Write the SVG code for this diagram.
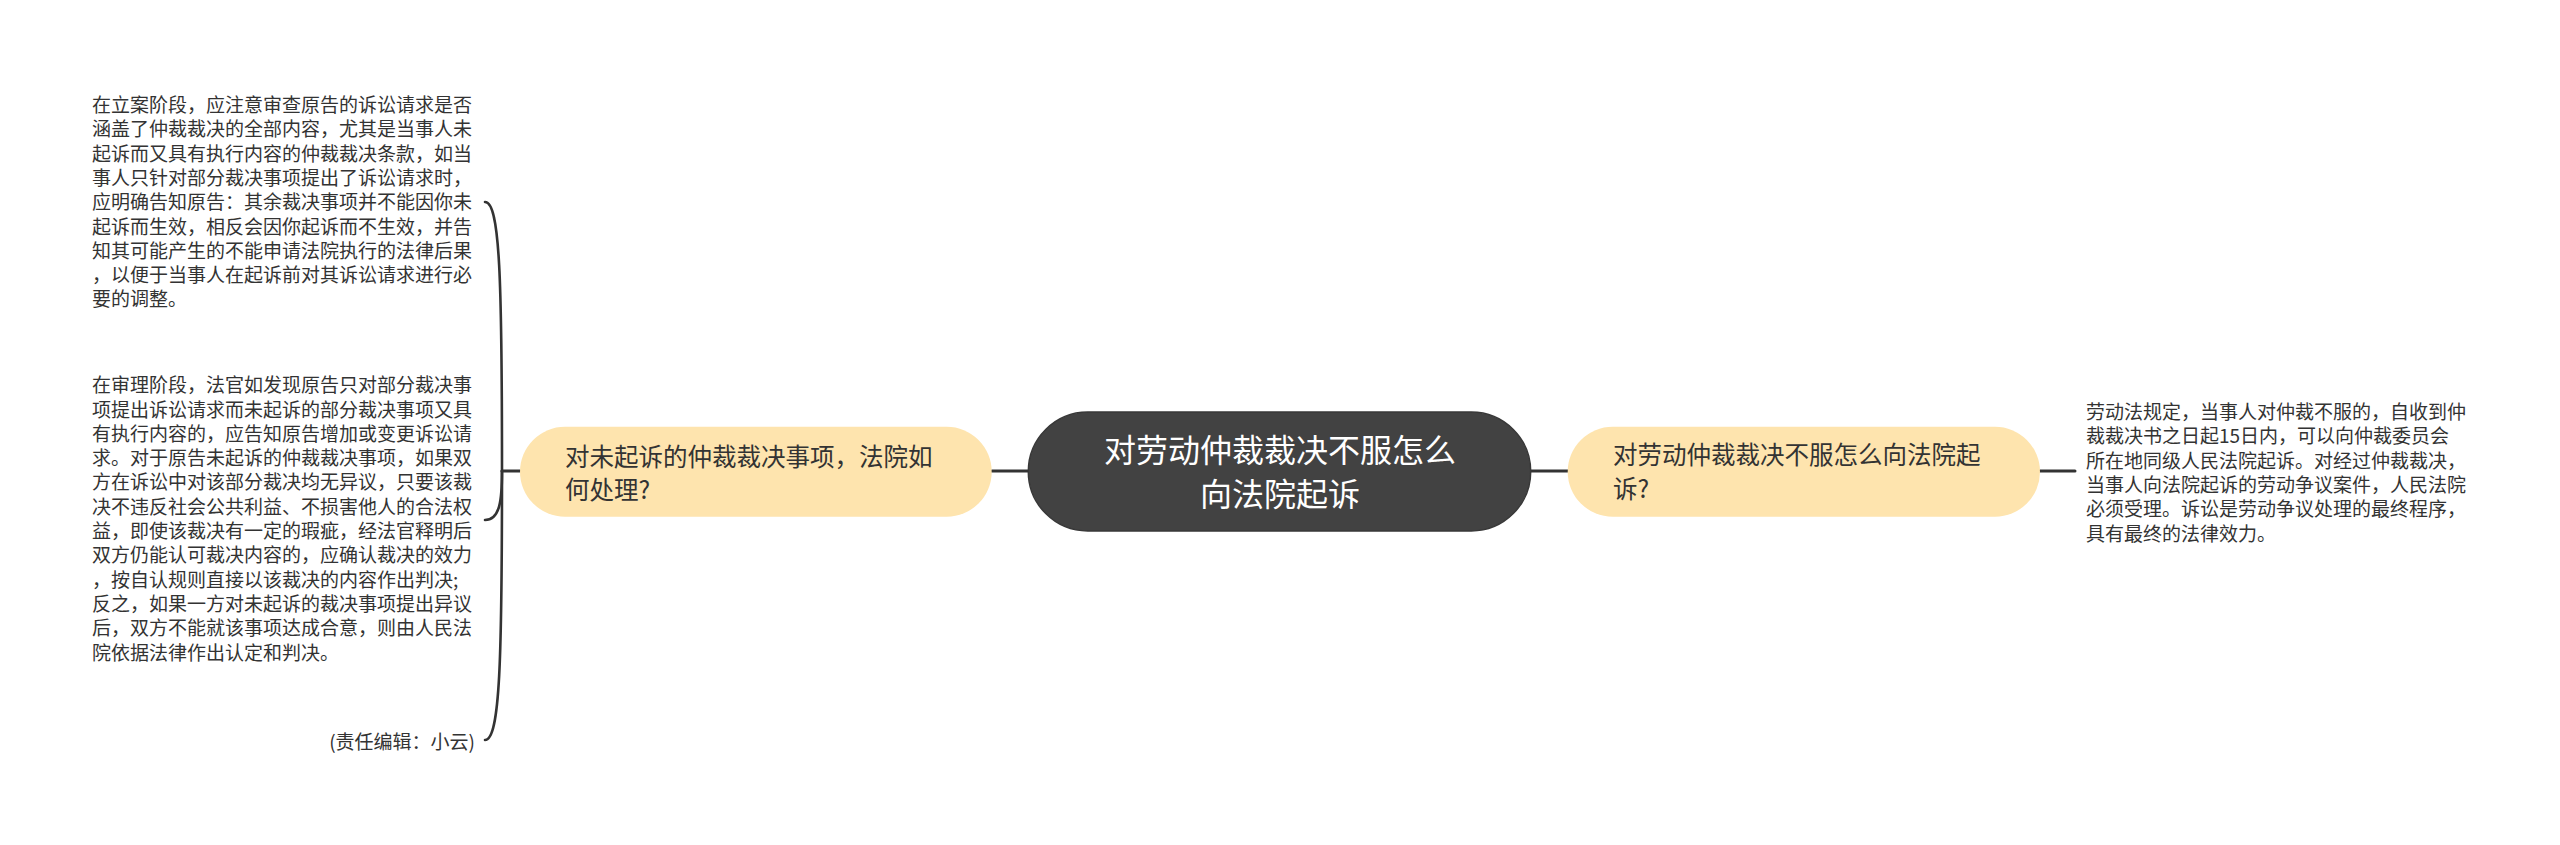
<svg xmlns="http://www.w3.org/2000/svg" width="2560" height="845" viewBox="0 0 2560 845">
<style>
.bg{fill:#ffffff}
.conn{fill:none;stroke:#333333;stroke-width:3;stroke-linecap:round}
.brace{fill:none;stroke:#333333;stroke-width:2.6;stroke-linecap:round}
.root{fill:#424242;stroke:#383838;stroke-width:1.5}
.sub{fill:#FEE4AE}
.t{font-family:"Noto Sans CJK SC","Noto Sans",sans-serif;fill:#333333}
.small{font-size:19px}
.mid{font-size:24.5px}
.big{font-size:32px;fill:#ffffff}
</style>
<rect class="bg" x="0" y="0" width="2560" height="845"/>
<g id="connectors">
<line class="conn" x1="991.7" y1="471" x2="1028.3" y2="471"/>
<line class="conn" x1="1530.7" y1="471" x2="1567.7" y2="471"/>
<line class="conn" x1="2040" y1="471" x2="2075" y2="471"/>
<line class="conn" x1="502" y1="471" x2="520" y2="471"/>
<path class="brace" d="M502,471 C502,280 500,202 485,202"/>
<path class="brace" d="M502,471 C502,500 500,520 485,520"/>
<path class="brace" d="M502,471 C502,660 500,740 485,740"/>
</g>
<g id="root">
<rect class="root" x="1028.3" y="412" width="502.4" height="119" rx="59.5" ry="59.5"/>
<text class="t big" text-anchor="middle"><tspan x="1280" y="462">对劳动仲裁裁决不服怎么</tspan><tspan x="1280" y="506">向法院起诉</tspan></text>
</g>
<g id="node-left">
<rect class="sub" x="520" y="426.7" width="471.7" height="90" rx="45" ry="45"/>
<text class="t mid"><tspan x="565" y="466">对未起诉的仲裁裁决事项，法院如</tspan><tspan x="565" y="499">何处理?</tspan></text>
</g>
<g id="node-right">
<rect class="sub" x="1567.7" y="426.7" width="472.3" height="90" rx="45" ry="45"/>
<text class="t mid"><tspan x="1613" y="464.3">对劳动仲裁裁决不服怎么向法院起</tspan><tspan x="1613" y="497.6">诉?</tspan></text>
</g>
<g id="leaf-filing">
<text class="t small"><tspan x="92" y="112">在立案阶段，应注意审查原告的诉讼请求是否</tspan><tspan x="92" y="136.3">涵盖了仲裁裁决的全部内容，尤其是当事人未</tspan><tspan x="92" y="160.6">起诉而又具有执行内容的仲裁裁决条款，如当</tspan><tspan x="92" y="184.9">事人只针对部分裁决事项提出了诉讼请求时，</tspan><tspan x="92" y="209.2">应明确告知原告：其余裁决事项并不能因你未</tspan><tspan x="92" y="233.5">起诉而生效，相反会因你起诉而不生效，并告</tspan><tspan x="92" y="257.8">知其可能产生的不能申请法院执行的法律后果</tspan><tspan x="92" y="282.1">，以便于当事人在起诉前对其诉讼请求进行必</tspan><tspan x="92" y="306.4">要的调整。</tspan></text>
</g>
<g id="leaf-trial">
<text class="t small"><tspan x="92" y="392.2">在审理阶段，法官如发现原告只对部分裁决事</tspan><tspan x="92" y="416.5">项提出诉讼请求而未起诉的部分裁决事项又具</tspan><tspan x="92" y="440.8">有执行内容的，应告知原告增加或变更诉讼请</tspan><tspan x="92" y="465.1">求。对于原告未起诉的仲裁裁决事项，如果双</tspan><tspan x="92" y="489.4">方在诉讼中对该部分裁决均无异议，只要该裁</tspan><tspan x="92" y="513.7">决不违反社会公共利益、不损害他人的合法权</tspan><tspan x="92" y="538">益，即使该裁决有一定的瑕疵，经法官释明后</tspan><tspan x="92" y="562.3">双方仍能认可裁决内容的，应确认裁决的效力</tspan><tspan x="92" y="586.6">，按自认规则直接以该裁决的内容作出判决;</tspan><tspan x="92" y="610.9">反之，如果一方对未起诉的裁决事项提出异议</tspan><tspan x="92" y="635.2">后，双方不能就该事项达成合意，则由人民法</tspan><tspan x="92" y="659.5">院依据法律作出认定和判决。</tspan></text>
</g>
<g id="leaf-editor">
<text class="t small" x="475" y="749" text-anchor="end">(责任编辑：小云)</text>
</g>
<g id="leaf-right">
<text class="t small"><tspan x="2086" y="419">劳动法规定，当事人对仲裁不服的，自收到仲</tspan><tspan x="2086" y="443.3">裁裁决书之日起15日内，可以向仲裁委员会</tspan><tspan x="2086" y="467.6">所在地同级人民法院起诉。对经过仲裁裁决，</tspan><tspan x="2086" y="491.9">当事人向法院起诉的劳动争议案件，人民法院</tspan><tspan x="2086" y="516.2">必须受理。诉讼是劳动争议处理的最终程序，</tspan><tspan x="2086" y="540.5">具有最终的法律效力。</tspan></text>
</g>
</svg>
